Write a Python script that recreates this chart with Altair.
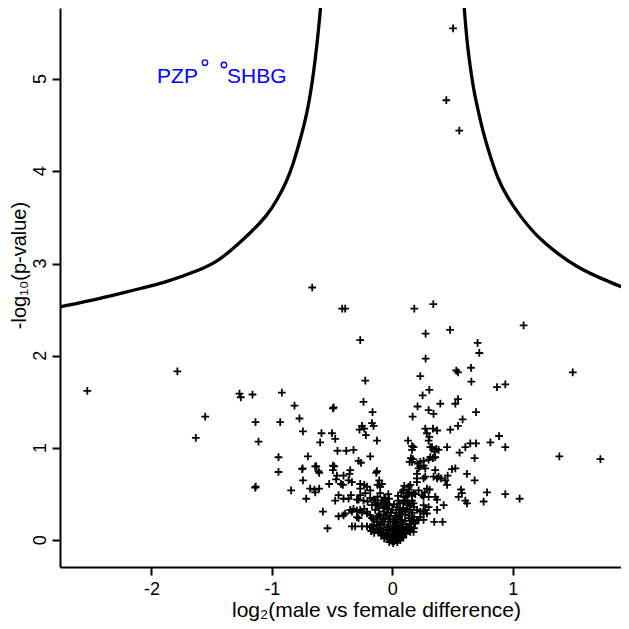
import altair as alt
import pandas as pd

# ---- scatter points (log2 male/female difference, -log10 p) ----
A_x = [0.505, 0.449, 0.557, -0.665, -0.416, -0.391, 0.183, 0.341, 0.277, 0.480, 1.091, 0.709, 0.723, 0.277, 0.233, 0.532, 0.546, 0.654, -0.266, 1.499, 0.657, 0.870, 0.939, -0.224]
A_y = [5.55, 4.77, 4.44, 2.74, 2.51, 2.51, 2.51, 2.56, 2.24, 2.28, 2.33, 2.14, 2.03, 1.97, 1.78, 1.84, 1.82, 1.87, 2.17, 1.82, 1.72, 1.66, 1.69, 1.73]

B_x = [-0.493, -0.487, -0.239, -0.164, 0.252, 0.308, 0.210, 0.169, 0.302, 0.343, 0.399, 0.524, 0.546, 0.584, 0.546, 0.482, 0.696, -0.169, -0.155, -0.252, -0.233, -0.272, -0.219, -0.127, -0.588, -0.501, -0.599, -0.474, -0.455, -0.382, -0.322, -0.280, -0.260, -0.183, -0.493, -0.482, -0.640, -0.607, -0.349, -0.355, -0.460, -0.405, -0.127, -0.133, -0.646, -0.607, -0.524, -0.426, -0.410, -0.363, -0.335, -0.266, -0.233, -0.086, -0.108, -0.474, -0.405, -0.343, -0.280, -0.239, -0.183, -0.141, -0.086, -0.576, -0.446, -0.405, -0.335, -0.293, -0.252, -0.210, -0.538, -0.335, -0.308, -0.252, -0.210, -0.169, -0.280, -0.169, -0.127]
B_y = [1.43, 1.44, 1.50, 1.39, 1.57, 1.63, 1.45, 1.34, 1.41, 1.37, 1.48, 1.48, 1.53, 1.31, 1.24, 1.20, 1.39, 1.27, 1.24, 1.24, 1.21, 1.20, 1.14, 1.08, 1.16, 1.16, 1.06, 1.10, 0.97, 0.97, 0.98, 0.86, 0.84, 0.91, 0.81, 0.80, 0.80, 0.73, 0.76, 0.72, 0.70, 0.70, 0.75, 0.73, 0.55, 0.56, 0.61, 0.61, 0.60, 0.65, 0.63, 0.61, 0.60, 0.61, 0.65, 0.43, 0.45, 0.49, 0.44, 0.43, 0.46, 0.44, 0.43, 0.31, 0.26, 0.27, 0.31, 0.32, 0.30, 0.29, 0.13, 0.15, 0.15, 0.15, 0.15, 0.15, 0.24, 0.24, 0.25]

C_x = [0.131, 0.164, 0.177, 0.274, 0.288, 0.308, 0.338, 0.372, 0.330, 0.366, 0.349, 0.455, 0.559, 0.607, 0.648, 0.696, 0.815, 0.887, 0.939, 0.684, 1.388, 1.729, 0.144, 0.164, 0.210, 0.302, 0.316, 0.260, 0.219, 0.205, 0.274, 0.343, 0.385, 0.357, 0.496, 0.524, 0.621, 0.684, 0.441, 0.455, 0.150, 0.136, 0.122, 0.205, 0.288, 0.269, 0.260, 0.302, 0.357, 0.177, 0.372, 0.551, 0.579, 0.607, 0.621, 0.787, 0.759, 0.939, 1.058, 0.427, 0.372, 0.274, 0.288, 0.349, 0.418, 0.233, 0.177]
C_y = [1.08, 1.02, 1.01, 1.21, 1.16, 1.12, 1.21, 1.19, 1.01, 0.99, 0.96, 1.01, 0.95, 1.01, 1.05, 1.05, 1.06, 1.13, 1.01, 0.89, 0.91, 0.88, 0.85, 0.85, 0.83, 0.875, 0.90, 0.81, 0.78, 0.72, 0.69, 0.69, 0.69, 0.76, 0.77, 0.78, 0.72, 0.65, 0.65, 0.60, 0.60, 0.55, 0.51, 0.63, 0.56, 0.52, 0.47, 0.47, 0.47, 0.51, 0.44, 0.47, 0.51, 0.43, 0.40, 0.52, 0.42, 0.50, 0.45, 0.38, 0.33, 0.33, 0.29, 0.20, 0.20, 0.25, 0.22]

D_x = [-2.533, -1.785, -1.554, -1.632, -1.269, -1.258, -1.161, -0.917, -1.136, -0.931, -1.111, -0.812, -0.771, -0.742, -0.945, -0.945, -0.701, -0.748, -0.745, -0.742, -1.139, -1.134, -0.840, -0.715, -0.682, -0.640, -0.632, -0.613]
D_y = [1.62, 1.83, 1.34, 1.11, 1.59, 1.55, 1.58, 1.60, 1.28, 1.28, 1.07, 1.46, 1.32, 1.18, 0.90, 0.74, 0.91, 0.77, 0.78, 0.65, 0.57, 0.58, 0.54, 0.45, 0.56, 0.52, 0.80, 0.75]

E_x = [-0.493, -0.466, -0.266, -0.210, -0.122, -0.100, -0.266, -0.224, -0.183, -0.100, -0.122, -0.446, -0.363, -0.293, -0.205, -0.155, -0.169, -0.122, -0.058, -0.044, -0.391, -0.349, -0.322, -0.266, -0.233, -0.293, -0.210, -0.183, -0.141, -0.114, -0.155, -0.127, -0.094]
E_y = [0.76, 0.66, 0.56, 0.58, 0.60, 0.58, 0.49, 0.51, 0.54, 0.51, 0.47, 0.49, 0.45, 0.44, 0.42, 0.44, 0.38, 0.40, 0.45, 0.40, 0.29, 0.33, 0.34, 0.33, 0.34, 0.25, 0.31, 0.27, 0.33, 0.27, 0.22, 0.20, 0.17]

F_x = [0.164, 0.302, 0.316, 0.385, 0.155, 0.357, 0.172, 0.233, 0.260, 0.338, 0.233, 0.274, 0.205, 0.260, 0.372, 0.405, 0.460, 0.136, 0.219, 0.310, 0.571, 0.094, 0.127, 0.164, 0.191, 0.247, 0.094, 0.136, 0.177, 0.260, 0.302, 0.067, 0.108, 0.150, 0.233, 0.260, 0.039, 0.081, 0.136, 0.219, 0.260, 0.025, 0.081, 0.136, 0.150, 0.177]
F_y = [0.98, 1.08, 1.01, 0.98, 0.89, 0.90, 0.88, 0.85, 0.86, 0.89, 0.80, 0.78, 0.67, 0.67, 0.67, 0.67, 0.70, 0.58, 0.54, 0.55, 0.55, 0.47, 0.48, 0.49, 0.50, 0.49, 0.42, 0.40, 0.40, 0.38, 0.36, 0.33, 0.31, 0.33, 0.31, 0.29, 0.24, 0.22, 0.24, 0.22, 0.22, 0.16, 0.14, 0.14, 0.09, 0.09]

G_x = [-0.100, -0.075, -0.058, -0.050, -0.033, -0.017, 0.000, 0.017, 0.033, 0.050, 0.067, 0.083, 0.100, 0.116, -0.067, -0.042, -0.025, -0.008, 0.008, 0.025, 0.042, 0.058, 0.075, 0.091, 0.108, -0.083, -0.058, -0.033, -0.017, 0.000, 0.017, 0.033, 0.050, 0.067, -0.042, -0.017, 0.008, 0.025, 0.042, 0.058, 0.075, -0.025, 0.000, 0.033, 0.058, -0.116, -0.091, -0.067, -0.025, 0.008, 0.042, 0.067, 0.091, 0.116, 0.141, 0.158, -0.075, -0.050, 0.091, 0.125, 0.141, 0.166, 0.183, -0.133, -0.150, -0.175, -0.100, -0.067, -0.033, -0.067, 0.100, 0.075, 0.100, 0.050]
G_y = [0.13, 0.11, 0.08, 0.04, 0.02, 0.00, -0.01, -0.01, 0.01, 0.03, 0.05, 0.09, 0.11, 0.13, 0.17, 0.14, 0.10, 0.07, 0.04, 0.05, 0.08, 0.11, 0.14, 0.17, 0.21, 0.22, 0.24, 0.20, 0.15, 0.12, 0.10, 0.13, 0.16, 0.20, 0.30, 0.26, 0.22, 0.18, 0.23, 0.26, 0.28, 0.38, 0.33, 0.30, 0.35, 0.09, 0.05, 0.02, -0.02, -0.03, -0.02, 0.00, 0.03, 0.07, 0.11, 0.14, 0.35, 0.41, 0.35, 0.38, 0.27, 0.30, 0.25, 0.11, 0.08, 0.10, 0.28, 0.31, 0.50, 0.46, 0.43, 0.52, 0.59, 0.43]

H_x = [-0.185, -0.152, -0.127, -0.102, -0.077, -0.052, -0.036, -0.019, -0.002, 0.014, 0.031, 0.048, 0.064, 0.081, 0.098, 0.114, 0.131, 0.147, 0.164, 0.189, 0.206, 0.180, -0.110, -0.077, -0.052, -0.036, -0.060, -0.093, -0.110, -0.135, -0.027, 0.014, 0.039, 0.064, 0.081, 0.106, 0.122, 0.147, 0.164, 0.180, 0.206, 0.114, 0.139, 0.089, 0.048, 0.006, 0.031, -0.027, -0.011, 0.022]
H_y = [0.14, 0.16, 0.12, 0.09, 0.07, 0.11, 0.07, 0.03, 0.05, 0.02, 0.08, 0.00, 0.10, 0.05, 0.08, 0.11, 0.14, 0.18, 0.21, 0.18, 0.22, 0.13, 0.17, 0.23, 0.27, 0.34, 0.37, 0.40, 0.35, 0.38, 0.45, 0.39, 0.36, 0.40, 0.31, 0.28, 0.34, 0.38, 0.43, 0.36, 0.33, 0.47, 0.52, 0.54, 0.48, 0.15, 0.20, 0.23, 0.30, 0.26]

# ---- significance threshold curves ----
left_curve_x = [-2.76, -2.427, -2.153, -1.870, -1.596, -1.455, -1.322, -1.180, -1.039, -0.956, -0.873, -0.823, -0.765, -0.707, -0.665, -0.640, -0.615, -0.590]
left_curve_y = [2.53, 2.62, 2.71, 2.80, 2.93, 3.02, 3.16, 3.33, 3.52, 3.69, 3.90, 4.08, 4.34, 4.63, 4.96, 5.21, 5.50, 5.85]
right_curve_x = [0.593, 0.621, 0.648, 0.676, 0.718, 0.759, 0.815, 0.870, 0.953, 1.064, 1.203, 1.369, 1.535, 1.729, 1.937]
right_curve_y = [5.85, 5.39, 5.13, 4.88, 4.63, 4.40, 4.16, 3.94, 3.72, 3.51, 3.29, 3.11, 2.96, 2.84, 2.73]

# ---- labelled proteins ----
label_names = ["PZP", "SHBG"]
label_x = [-1.556, -1.398]
label_y = [5.177, 5.152]

x_ticks = [-2, -1, 0, 1]
y_ticks = [0, 1, 2, 3, 4, 5]
y_tick_labels = ["0", "1", "2", "3", "4", "5"]

xs, ys = [], []
for gx, gy in [(A_x, A_y), (B_x, B_y), (C_x, C_y), (D_x, D_y), (E_x, E_y), (F_x, F_y), (G_x, G_y), (H_x, H_y)]:
    for a, b in zip(gx, gy):
        xs.append(a)
        ys.append(b)
pts = pd.DataFrame({"diff": xs, "nlp": ys})

curve = pd.DataFrame({
    "diff": left_curve_x + right_curve_x,
    "nlp": left_curve_y + right_curve_y,
    "side": ["left"] * len(left_curve_x) + ["right"] * len(right_curve_x),
})
labels = pd.DataFrame({"diff": label_x, "nlp": label_y, "name": label_names})
yticks_df = pd.DataFrame({"nlp": y_ticks, "lab": y_tick_labels})

FONT = "Liberation Sans"
BLUE = "#0000ff"

xscale = alt.Scale(domain=[-2.76, 1.90], nice=False, zero=False)
yscale = alt.Scale(domain=[-0.29, 5.77], nice=False, zero=False)

xaxis = alt.Axis(
    values=x_ticks, title="log₂(male vs female difference)", grid=False,
    tickSize=8, tickWidth=2, tickColor="black", domainWidth=2, domainColor="black",
    labelFont=FONT, labelFontSize=18, labelColor="black", labelPadding=5,
    labelExpr="'' + datum.value",
    titleFont=FONT, titleFontSize=21, titleFontWeight="normal", titleColor="black",
    titleX=316, titleY=49, titleBaseline="alphabetic", titleAlign="center",
)
yaxis = alt.Axis(
    values=y_ticks, title="-log₁₀(p-value)", grid=False,
    tickSize=8, tickWidth=2, tickColor="black", domainWidth=2, domainColor="black",
    labels=False,
    titleFont=FONT, titleFontSize=20, titleFontWeight="normal", titleColor="black",
    titleAngle=270, titleX=-35, titleY=257, titleBaseline="alphabetic", titleAlign="center",
)

X = alt.X("diff:Q", scale=xscale, axis=xaxis)
Y = alt.Y("nlp:Q", scale=yscale, axis=yaxis)

points = alt.Chart(pts).mark_point(
    shape="M-1,0L1,0M0,-1L0,1", filled=False, size=60, strokeWidth=1.8,
    color="black", opacity=1,
).encode(x=X, y=Y)

lines = alt.Chart(curve).mark_line(
    color="black", strokeWidth=3.3, clip=True, interpolate="basis"
).encode(x=X, y=Y, detail="side:N")

circles = alt.Chart(labels).mark_point(
    shape="circle", filled=False, size=30, strokeWidth=1.3, color=BLUE, opacity=1
).encode(x=X, y=Y)

pzp = alt.Chart(labels).transform_filter(alt.datum.name == "PZP").mark_text(
    align="right", baseline="alphabetic", dx=-7, dy=20, font=FONT, fontSize=21, color=BLUE
).encode(x=X, y=Y, text="name:N")

shbg = alt.Chart(labels).transform_filter(alt.datum.name == "SHBG").mark_text(
    align="left", baseline="alphabetic", dx=3, dy=18, font=FONT, fontSize=21, color=BLUE
).encode(x=X, y=Y, text="name:N")

ylabels = alt.Chart(yticks_df).mark_text(
    angle=270, align="center", baseline="alphabetic", font=FONT, fontSize=18, color="black"
).encode(y=Y, x=alt.value(-14), text="lab:N")

chart = alt.layer(lines, points, circles, pzp, shbg, ylabels).properties(
    width=561, height=559,
    padding={"left": 52, "top": 0, "right": 0, "bottom": 54},
    autosize=alt.AutoSizeParams(type="none"),
    background="white",
).configure_view(strokeWidth=0)

chart.save("out.html", embed_options={"renderer": "svg", "actions": False})
